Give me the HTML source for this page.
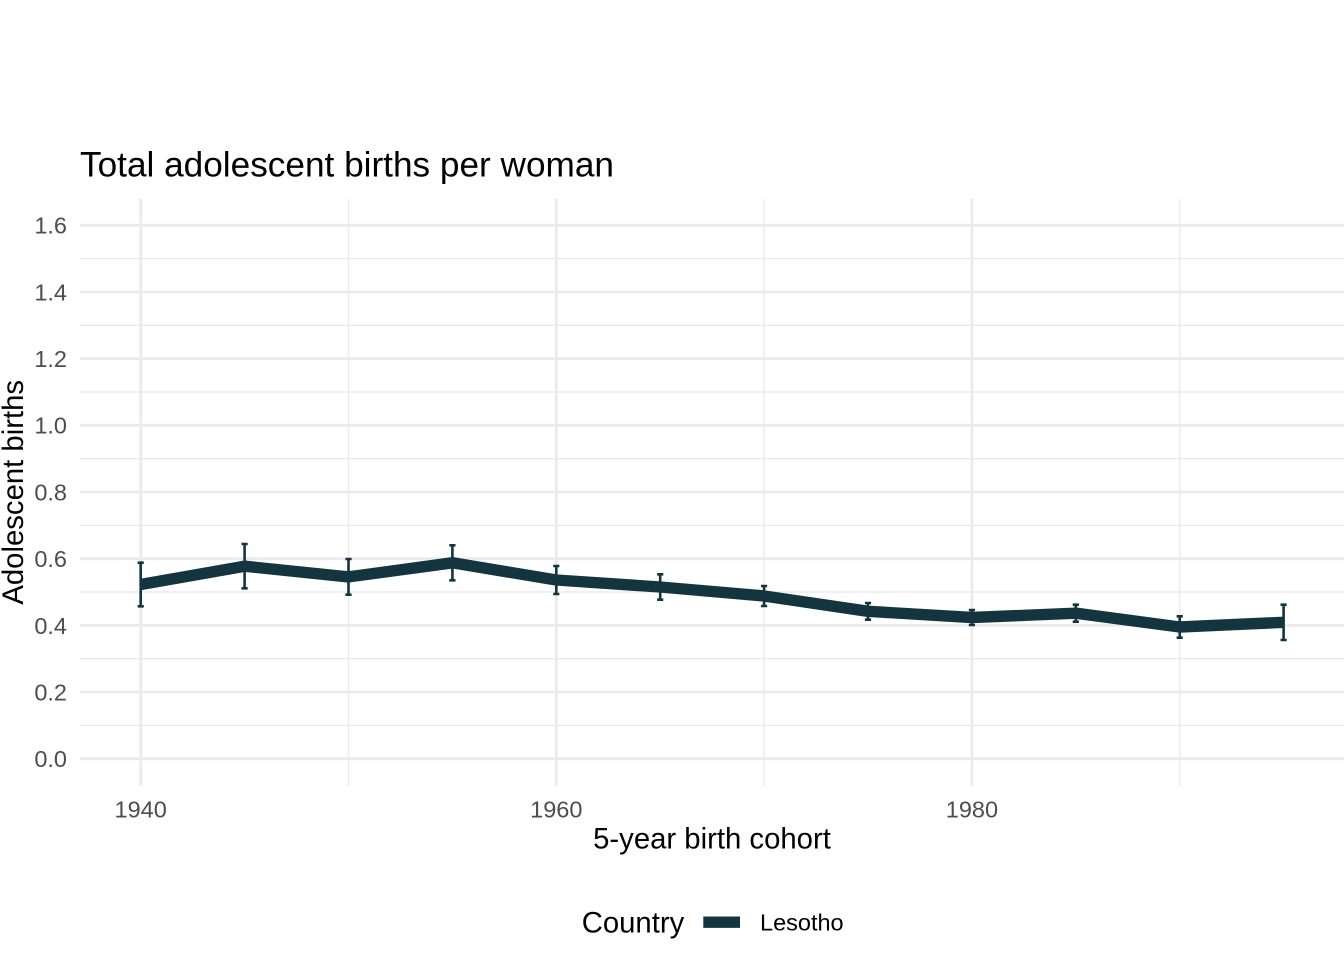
<!DOCTYPE html>
<html>
<head>
<meta charset="utf-8">
<style>
html,body{margin:0;padding:0;background:#fff;}
svg{display:block;}
text{font-family:"Liberation Sans",Arial,sans-serif;}
</style>
</head>
<body>
<svg width="1344" height="960" viewBox="0 0 1344 960" xmlns="http://www.w3.org/2000/svg">
<rect x="0" y="0" width="1344" height="960" fill="#ffffff"/>
<!-- minor horizontal gridlines -->
<g stroke="#ebebeb" stroke-width="1.4">
<line x1="80" x2="1344" y1="725.4" y2="725.4"/>
<line x1="80" x2="1344" y1="658.7" y2="658.7"/>
<line x1="80" x2="1344" y1="592.0" y2="592.0"/>
<line x1="80" x2="1344" y1="525.4" y2="525.4"/>
<line x1="80" x2="1344" y1="458.7" y2="458.7"/>
<line x1="80" x2="1344" y1="392.0" y2="392.0"/>
<line x1="80" x2="1344" y1="325.3" y2="325.3"/>
<line x1="80" x2="1344" y1="258.6" y2="258.6"/>
<!-- minor vertical -->
<line x1="348.5" x2="348.5" y1="199" y2="785.7"/>
<line x1="764.1" x2="764.1" y1="199" y2="785.7"/>
<line x1="1179.7" x2="1179.7" y1="199" y2="785.7"/>
</g>
<!-- major gridlines -->
<g stroke="#ebebeb" stroke-width="2.8">
<line x1="80" x2="1344" y1="758.7" y2="758.7"/>
<line x1="80" x2="1344" y1="692.0" y2="692.0"/>
<line x1="80" x2="1344" y1="625.4" y2="625.4"/>
<line x1="80" x2="1344" y1="558.7" y2="558.7"/>
<line x1="80" x2="1344" y1="492.0" y2="492.0"/>
<line x1="80" x2="1344" y1="425.3" y2="425.3"/>
<line x1="80" x2="1344" y1="358.6" y2="358.6"/>
<line x1="80" x2="1344" y1="292.0" y2="292.0"/>
<line x1="80" x2="1344" y1="225.3" y2="225.3"/>
<line x1="140.7" x2="140.7" y1="199" y2="785.7"/>
<line x1="556.3" x2="556.3" y1="199" y2="785.7"/>
<line x1="971.9" x2="971.9" y1="199" y2="785.7"/>
</g>
<!-- data line -->
<polyline fill="none" stroke="#143540" stroke-width="11.4" stroke-linejoin="round" stroke-linecap="butt"
points="140.7,584.5 244.6,566.2 348.5,576.9 452.4,562.8 556.3,580.0 660.2,587.0 764.1,596.0 868.0,611.3 971.9,617.5 1075.8,613.2 1179.7,627.0 1283.6,622.3"/>
<!-- error bars -->
<g stroke="#143540" stroke-width="2.6" fill="none">
<path d="M137.6,562.7H143.8M140.7,562.7V606.3M137.6,606.3H143.8"/>
<path d="M241.5,544H247.7M244.6,544V588.3M241.5,588.3H247.7"/>
<path d="M345.4,559H351.6M348.5,559V594.7M345.4,594.7H351.6"/>
<path d="M449.3,545.3H455.5M452.4,545.3V580.3M449.3,580.3H455.5"/>
<path d="M553.2,566H559.4M556.3,566V594M553.2,594H559.4"/>
<path d="M657.1,574.3H663.3M660.2,574.3V599.7M657.1,599.7H663.3"/>
<path d="M761,586H767.2M764.1,586V606M761,606H767.2"/>
<path d="M864.9,603H871.1M868,603V619.7M864.9,619.7H871.1"/>
<path d="M968.8,610H975M971.9,610V625M968.8,625H975"/>
<path d="M1072.7,604.7H1078.9M1075.8,604.7V621.7M1072.7,621.7H1078.9"/>
<path d="M1176.6,616.3H1182.8M1179.7,616.3V637.7M1176.6,637.7H1182.8"/>
<path d="M1280.5,604.7H1286.7M1283.6,604.7V640M1280.5,640H1286.7"/>
</g>
<!-- title -->
<text x="80" y="176.7" font-size="35.2" fill="#000">Total adolescent births per woman</text>
<!-- y tick labels -->
<g font-size="23.5" fill="#4d4d4d" text-anchor="end">
<text x="67" y="767.1">0.0</text>
<text x="67" y="700.4">0.2</text>
<text x="67" y="633.8">0.4</text>
<text x="67" y="567.1">0.6</text>
<text x="67" y="500.4">0.8</text>
<text x="67" y="433.7">1.0</text>
<text x="67" y="367.0">1.2</text>
<text x="67" y="300.4">1.4</text>
<text x="67" y="233.7">1.6</text>
</g>
<!-- x tick labels -->
<g font-size="23.5" fill="#4d4d4d" text-anchor="middle">
<text x="140.7" y="817.3">1940</text>
<text x="556.3" y="817.3">1960</text>
<text x="971.9" y="817.3">1980</text>
</g>
<!-- axis titles -->
<text x="712" y="848.5" font-size="29.3" fill="#000" text-anchor="middle">5-year birth cohort</text>
<text transform="translate(23,492.3) rotate(-90)" x="0" y="0" font-size="29.3" fill="#000" text-anchor="middle">Adolescent births</text>
<!-- legend -->
<text x="581.7" y="932.5" font-size="29.3" fill="#000">Country</text>
<line x1="703.3" x2="740" y1="922.2" y2="922.2" stroke="#143540" stroke-width="11.4"/>
<text x="760" y="930.4" font-size="23.5" fill="#000">Lesotho</text>
</svg>
</body>
</html>
